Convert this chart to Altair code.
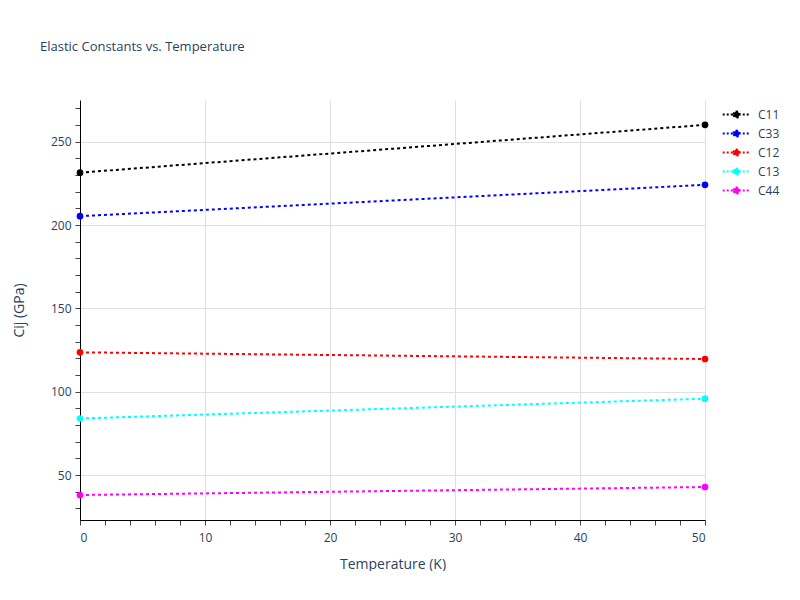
import altair as alt
import pandas as pd

temperature = [0, 50]
series_names = ["C11", "C33", "C12", "C13", "C44"]
C11 = [231.4, 260.1]
C33 = [205.3, 224.1]
C12 = [123.6, 119.6]
C13 = [83.9, 95.8]
C44 = [38.0, 42.8]
colors = ["#000000", "#0000ff", "#ff0000", "#00ffff", "#ff00ff"]

x_ticks = list(range(0, 51, 2))
y_ticks = list(range(30, 271, 10))

values = {"C11": C11, "C33": C33, "C12": C12, "C13": C13, "C44": C44}
rows = []
for name in series_names:
    for t, v in zip(temperature, values[name]):
        rows.append({"Temperature": t, "value": v, "series": name})
df = pd.DataFrame(rows)

TXT = "#2a3f5f"
FONT = "Open Sans"

legend_path = ("M-1.45,0 L1.45,0 M-0.32,0 A0.32,0.32 0 1,1 0.32,0 "
               "A0.32,0.32 0 1,1 -0.32,0 Z")

color = alt.Color(
    "series:N",
    scale=alt.Scale(domain=series_names, range=colors),
    legend=alt.Legend(
        title=None,
        orient="none",
        legendX=646,
        legendY=4,
        padding=0,
        symbolType=legend_path,
        symbolSize=361,
        symbolDash=[2, 2],
        symbolStrokeWidth=2,
        symbolOpacity=1,
        labelFontSize=12,
        labelColor=TXT,
        labelFont=FONT,
        rowPadding=1,
        labelOffset=11,
    ),
)

x = alt.X(
    "Temperature:Q",
    scale=alt.Scale(domain=[0, 50], nice=False),
    axis=alt.Axis(
        title="Temperature (K)",
        values=x_ticks,
        labelExpr="datum.value % 10 === 0 ? datum.label : ''",
        labelPadding=7,
        titlePadding=14,
        gridOpacity={"condition": {"test": "datum.value % 10 === 0 && datum.value > 0", "value": 1}, "value": 0},
    ),
)
y = alt.Y(
    "value:Q",
    scale=alt.Scale(domain=[23, 275], nice=False, zero=False),
    axis=alt.Axis(
        title="Cij (GPa)",
        values=y_ticks,
        labelExpr="datum.value % 50 === 0 ? datum.label : ''",
        titlePadding=24,
        gridOpacity={"condition": {"test": "datum.value % 50 === 0", "value": 1}, "value": 0},
    ),
)

base = alt.Chart(df)
lines = base.mark_line(strokeDash=[3, 3], strokeWidth=2, clip=False).encode(
    x=x, y=y, color=color, detail="series:N"
)
points = base.mark_point(filled=True, size=45, opacity=1, clip=False).encode(
    x=x, y=y, color=color
)

chart = (
    alt.layer(lines, points)
    .properties(
        width=625,
        height=420,
        padding={"left": 4, "top": 33, "right": 0, "bottom": 0},
        title=alt.TitleParams(
            "Elastic Constants vs. Temperature",
            anchor="start",
            frame="group",
            dx=-40,
            offset=46,
            fontSize=13,
            fontWeight="normal",
            font=FONT,
            color=TXT,
        ),
    )
    .configure_view(stroke=None)
    .configure_axis(
        domainColor="#000000",
        domainWidth=1,
        tickColor="#444444",
        tickSize=5,
        labelFont=FONT,
        labelFontSize=12,
        labelColor=TXT,
        labelPadding=4,
        titleFont=FONT,
        titleFontSize=14,
        titleFontWeight="normal",
        titleColor=TXT,
        gridColor="#e0e0e0",
        gridWidth=1,
        labelOverlap=False,
    )
)

chart.save("out.html", embed_options={"renderer": "svg", "actions": False})
